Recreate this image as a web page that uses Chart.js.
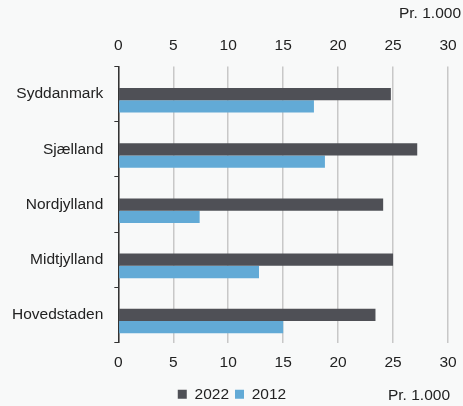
<!DOCTYPE html>
<html>
<head>
<meta charset="utf-8">
<script src="https://cdn.jsdelivr.net/npm/chart.js@4"></script>
<style>
  html, body { margin: 0; padding: 0; background: #f8f9f9; }
  #wrap { width: 463px; height: 406px; }
</style>
</head>
<body>
<div id="wrap"><canvas id="regionChart"></canvas></div>
<script>
const regions = ['Syddanmark', 'Sjælland', 'Nordjylland', 'Midtjylland', 'Hovedstaden'];
const values2022 = [24.8, 27.2, 24.1, 25.0, 23.4];
const values2012 = [17.8, 18.8, 7.4, 12.8, 15.0];
const unitLabel = 'Pr. 1.000';

const fontFamily = '"Liberation Sans", Arial, sans-serif';
Chart.defaults.font.family = fontFamily;
Chart.defaults.font.size = 15.5;
Chart.defaults.color = '#222';

// draws the two "Pr. 1.000" labels
const unitText = {
  id: 'unitText',
  afterDraw(chart) {
    const ctx = chart.ctx;
    ctx.save();
    ctx.font = '15.5px ' + fontFamily;
    ctx.fillStyle = '#222';
    ctx.textAlign = 'right';
    ctx.textBaseline = 'middle';
    ctx.fillText(unitLabel, chart.width - 2, 14);
    const lg = chart.legend;
    ctx.fillText(unitLabel, chart.width - 13, lg.top + lg.height / 2 - 1);
    ctx.restore();
  }
};

function sidePadding(scale) {
  scale.paddingLeft = 0;
  scale.paddingRight = 15;
}

const regionChart = new Chart(document.getElementById('regionChart'), {
  type: 'bar',
  data: {
    labels: regions,
    datasets: [
      { label: '', data: [], backgroundColor: 'rgba(0,0,0,0)' },
      { label: '2022', data: values2022, backgroundColor: '#4f5056' },
      { label: '2012', data: values2012, backgroundColor: '#62aad6' }
    ]
  },
  options: {
    indexAxis: 'y',
    responsive: true,
    maintainAspectRatio: false,
    animation: false,
    categoryPercentage: 0.667,
    barPercentage: 1,
    layout: { padding: { top: 24, right: 0, left: 1, bottom: -6 } },
    scales: {
      x: {
        position: 'bottom',
        min: 0, max: 30,
        ticks: { stepSize: 5, padding: 11 },
        grid: { color: '#c8c8c8', lineWidth: 1.5, drawTicks: false },
        border: { display: false },
        afterFit: scale => { sidePadding(scale); scale.height = 38; }
      },
      x2: {
        position: 'top',
        min: 0, max: 30,
        ticks: { stepSize: 5, padding: 12 },
        grid: { display: false, drawTicks: false },
        border: { display: false },
        afterFit: sidePadding
      },
      y: {
        ticks: { padding: 11 },
        grid: { drawOnChartArea: false, color: '#333', tickLength: 4, lineWidth: 1 },
        border: { color: '#333', width: 1.5 }
      }
    },
    plugins: {
      tooltip: { enabled: false },
      legend: {
        position: 'bottom',
        labels: {
          boxWidth: 9,
          boxHeight: 9,
          padding: 6,
          filter: item => item.text !== ''
        }
      }
    }
  },
  plugins: [unitText]
});
</script>
</body>
</html>
